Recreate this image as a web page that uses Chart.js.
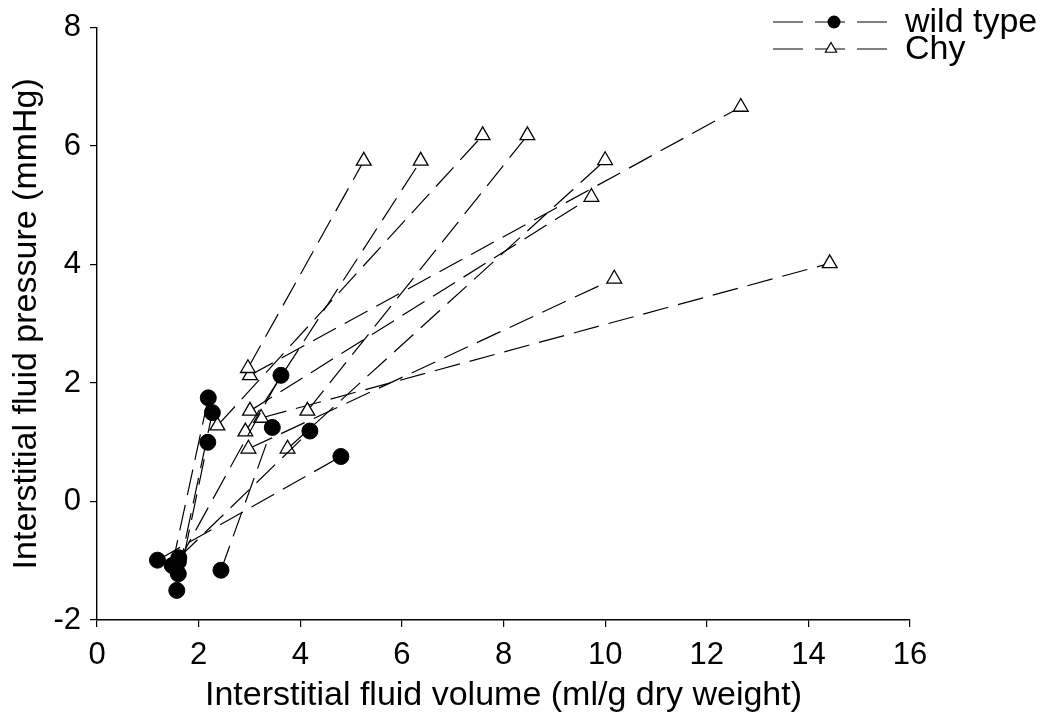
<!DOCTYPE html>
<html>
<head>
<meta charset="utf-8">
<script src="https://cdn.jsdelivr.net/npm/chart.js@4.4.1/dist/chart.umd.min.js"></script>
<style>
  body { margin: 0; background: #fff; }
</style>
</head>
<body>
<canvas id="ifpChart" width="1047" height="722"></canvas>
<script>
// wild type: baseline -> overhydrated
const wtBaseX = [1.19, 1.48, 1.60, 1.60, 1.57, 2.44, 1.61];
const wtBaseY = [-0.99, -1.08, -1.02, -1.22, -1.50, -1.16, -0.95];
const wtHighX = [4.80, 2.19, 3.62, 2.27, 2.18, 3.45, 4.19];
const wtHighY = [0.76, 1.75, 2.13, 1.50, 1.00, 1.25, 1.19];

// Chy: baseline -> overhydrated
const chyBaseX = [2.97, 3.01, 2.37, 2.92, 3.01, 3.75, 2.98, 4.14, 3.23];
const chyBaseY = [2.25, 2.13, 1.28, 1.18, 1.53, 0.89, 0.89, 1.53, 1.41];
const chyHighX = [5.25, 12.67, 7.59, 6.37, 9.73, 10.00, 10.18, 8.47, 14.42];
const chyHighY = [5.75, 6.66, 6.18, 5.75, 5.14, 5.76, 3.76, 6.18, 4.02];

const xTicks = [0, 2, 4, 6, 8, 10, 12, 14, 16];
const yTicks = [-2, 0, 2, 4, 6, 8];

const dash = [26, 10];
const datasets = [];

wtBaseX.forEach((x, i) => {
  datasets.push({
    label: 'wild type',
    data: [{x: x, y: wtBaseY[i]}, {x: wtHighX[i], y: wtHighY[i]}],
    showLine: true,
    borderColor: '#000',
    borderWidth: 1.2,
    borderDash: dash,
    pointStyle: 'circle',
    pointRadius: 8,
    pointBorderWidth: 1,
    pointBackgroundColor: '#000',
    pointBorderColor: '#000',
    order: 0
  });
});

chyBaseX.forEach((x, i) => {
  datasets.push({
    label: 'Chy',
    data: [{x: x, y: chyBaseY[i]}, {x: chyHighX[i], y: chyHighY[i]}],
    showLine: true,
    borderColor: '#000',
    borderWidth: 1.2,
    borderDash: dash,
    pointStyle: 'triangle',
    pointRadius: 8.5,
    pointBorderWidth: 1.3,
    pointBackgroundColor: '#fff',
    pointBorderColor: '#000',
    order: 1
  });
});

// legend drawn by hand: dashed line with marker, like the original
const legendPlugin = {
  id: 'dashLegend',
  afterDraw(chart) {
    const c = chart.ctx;
    const rows = [
      {text: 'wild type', y: 22, style: 'circle'},
      {text: 'Chy', y: 49, style: 'triangle'}
    ];
    c.save();
    rows.forEach(r => {
      c.strokeStyle = '#000';
      c.lineWidth = 1.2;
      c.setLineDash([30, 12]);
      c.beginPath();
      c.moveTo(773, r.y);
      c.lineTo(888, r.y);
      c.stroke();
      c.setLineDash([]);
      c.beginPath();
      if (r.style === 'circle') {
        c.arc(834, r.y, 6.5, 0, Math.PI * 2);
        c.fillStyle = '#000';
        c.fill();
      } else {
        const rad = 6.5;
        c.moveTo(831, r.y - rad);
        c.lineTo(831 + rad * 0.866, r.y + rad * 0.5);
        c.lineTo(831 - rad * 0.866, r.y + rad * 0.5);
        c.closePath();
        c.fillStyle = '#fff';
        c.fill();
        c.lineWidth = 1.2;
        c.stroke();
      }
      c.fillStyle = '#000';
      c.font = '34px "Liberation Sans", Arial, sans-serif';
      c.textAlign = 'left';
      c.textBaseline = 'middle';
      c.fillText(r.text, 905, r.y + 1);
    });
    c.restore();
  }
};

const fontFam = '"Liberation Sans", Arial, sans-serif';

new Chart(document.getElementById('ifpChart'), {
  type: 'scatter',
  data: { datasets: datasets },
  options: {
    responsive: false,
    animation: false,
    layout: { padding: { left: 0, right: 137, top: 25, bottom: 0 } },
    plugins: {
      legend: { display: false },
      tooltip: { enabled: false }
    },
    scales: {
      x: {
        type: 'linear',
        min: 0,
        max: 16,
        afterBuildTicks: s => { s.ticks = xTicks.map(v => ({value: v})); },
        afterFit: s => { s.height = 102; },
        grid: { drawOnChartArea: false, drawTicks: true, tickLength: 7, color: '#000', lineWidth: 1.2 },
        border: { color: '#000', width: 1.4 },
        ticks: { color: '#000', padding: 10, font: { family: fontFam, size: 31 } },
        title: {
          display: true,
          text: 'Interstitial fluid volume (ml/g dry weight)',
          color: '#000',
          font: { family: fontFam, size: 34 },
          padding: { top: 0, bottom: 6 }
        }
      },
      y: {
        type: 'linear',
        min: -2,
        max: 8,
        afterBuildTicks: s => { s.ticks = yTicks.map(v => ({value: v})); },
        afterFit: s => { s.width = 97; },
        grid: { drawOnChartArea: false, drawTicks: true, tickLength: 7, color: '#000', lineWidth: 1.2 },
        border: { color: '#000', width: 1.4 },
        ticks: { color: '#000', padding: 9, font: { family: fontFam, size: 31 } },
        title: {
          display: true,
          text: 'Interstitial fluid pressure (mmHg)',
          color: '#000',
          font: { family: fontFam, size: 34 },
          padding: { top: 6, bottom: 0 }
        }
      }
    }
  },
  plugins: [legendPlugin]
});
</script>
</body>
</html>
